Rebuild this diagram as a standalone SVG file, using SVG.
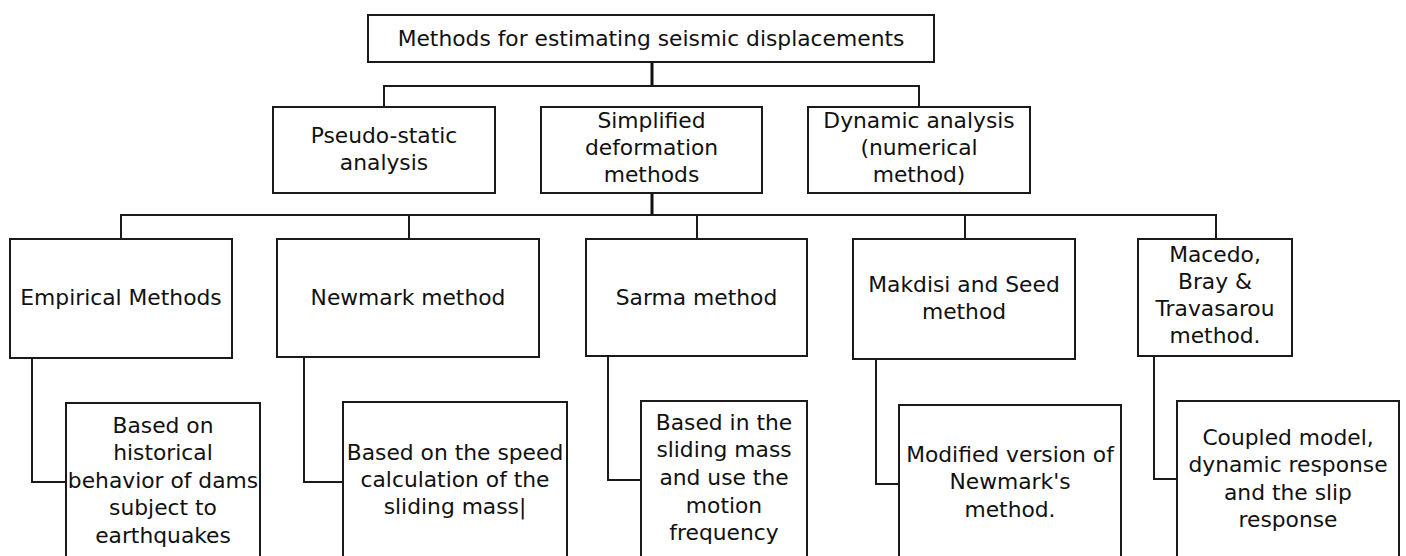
<svg xmlns="http://www.w3.org/2000/svg" width="1406" height="556" viewBox="0 0 1406 556">
<style>
.box{fill:#fff;stroke:#1a1a1a;stroke-width:2}
.ln{fill:none;stroke:#1a1a1a;stroke-width:2}
.thk{fill:none;stroke:#111;stroke-width:3}
text{font-family:"DejaVu Sans",sans-serif;font-size:21.8px;fill:#111;text-anchor:middle}
</style>
<rect width="1406" height="556" fill="#fff"/>
<g id="connectors">
<path class="thk" d="M652 62V86"/>
<path class="ln" d="M384 107V86H919V107"/>
<path class="thk" d="M652 193V215"/>
<path class="ln" d="M121 239V215H1216V239"/>
<path class="ln" d="M409 215V239M697 215V239M965 215V239"/>
<path class="ln" d="M32 358V482H66"/>
<path class="ln" d="M304 357V482H343"/>
<path class="ln" d="M608 356V480H641"/>
<path class="ln" d="M876 359V484H899"/>
<path class="ln" d="M1154 356V479H1177"/>
</g>
<g id="root"><rect class="box" x="368" y="15" width="566" height="47"/><text x="651" y="46">Methods for estimating seismic displacements</text></g>
<g id="pseudo"><rect class="box" x="273" y="107" width="222" height="86"/><text><tspan x="384" y="143">Pseudo-static</tspan><tspan x="384" y="170">analysis</tspan></text></g>
<g id="simplified"><rect class="box" x="541" y="107" width="221" height="86"/><text><tspan x="651.5" y="128">Simplified</tspan><tspan x="651.5" y="155">deformation</tspan><tspan x="651.5" y="182">methods</tspan></text></g>
<g id="dynamic"><rect class="box" x="808" y="107" width="222" height="86"/><text><tspan x="919" y="128">Dynamic analysis</tspan><tspan x="919" y="155">(numerical</tspan><tspan x="919" y="182">method)</tspan></text></g>
<g id="empirical"><rect class="box" x="10" y="239" width="222" height="119"/><text x="121" y="305">Empirical Methods</text></g>
<g id="newmark"><rect class="box" x="277" y="239" width="262" height="118"/><text x="408" y="305">Newmark method</text></g>
<g id="sarma"><rect class="box" x="586" y="239" width="221" height="117"/><text x="696.5" y="305">Sarma method</text></g>
<g id="makdisi"><rect class="box" x="853" y="239" width="222" height="120"/><text><tspan x="964" y="292">Makdisi and Seed</tspan><tspan x="964" y="319">method</tspan></text></g>
<g id="macedo"><rect class="box" x="1138" y="239" width="154" height="117"/><text><tspan x="1215" y="262">Macedo,</tspan><tspan x="1215" y="289">Bray &amp;</tspan><tspan x="1215" y="316">Travasarou</tspan><tspan x="1215" y="343">method.</tspan></text></g>
<g id="empirical-desc"><rect class="box" x="66" y="403" width="194" height="160"/><text><tspan x="163" y="433">Based on</tspan><tspan x="163" y="460">historical</tspan><tspan x="163" y="488">behavior of dams</tspan><tspan x="163" y="515">subject to</tspan><tspan x="163" y="543">earthquakes</tspan></text></g>
<g id="newmark-desc"><rect class="box" x="343" y="402" width="224" height="160"/><text><tspan x="455" y="460">Based on the speed</tspan><tspan x="455" y="487">calculation of the</tspan><tspan x="455" y="514">sliding mass|</tspan></text></g>
<g id="sarma-desc"><rect class="box" x="641" y="401" width="166" height="160"/><text><tspan x="724" y="430">Based in the</tspan><tspan x="724" y="457">sliding mass</tspan><tspan x="724" y="485">and use the</tspan><tspan x="724" y="513">motion</tspan><tspan x="724" y="540">frequency</tspan></text></g>
<g id="makdisi-desc"><rect class="box" x="899" y="405" width="222" height="160"/><text><tspan x="1010" y="462">Modified version of</tspan><tspan x="1010" y="489">Newmark's</tspan><tspan x="1010" y="517">method.</tspan></text></g>
<g id="macedo-desc"><rect class="box" x="1177" y="401" width="222" height="160"/><text><tspan x="1288" y="445">Coupled model,</tspan><tspan x="1288" y="472">dynamic response</tspan><tspan x="1288" y="500">and the slip</tspan><tspan x="1288" y="527">response</tspan></text></g>
</svg>
